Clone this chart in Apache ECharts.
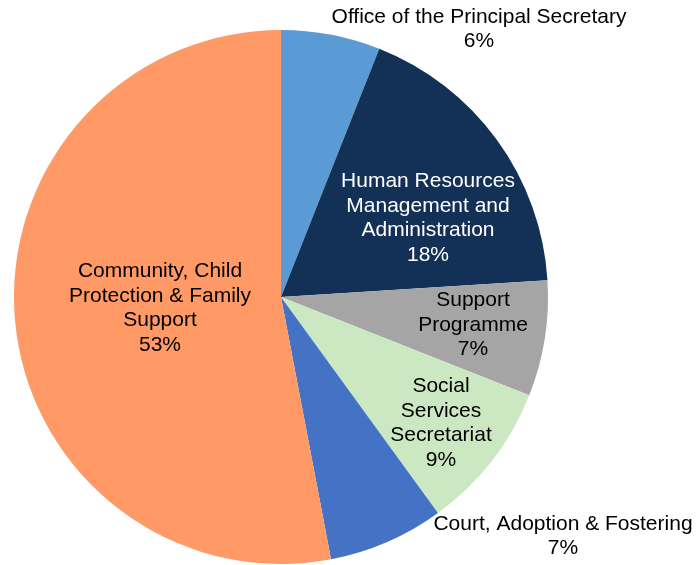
<!DOCTYPE html>
<html>
<head>
<meta charset="utf-8">
<script src="https://cdn.jsdelivr.net/npm/echarts@6/dist/echarts.min.js"></script>
<style>
  html, body { margin: 0; padding: 0; background: #ffffff; }
  #chart { width: 698px; height: 565px; }
</style>
</head>
<body>
<div id="chart"></div>
<script>
// Budget share by programme (percent), clockwise from 12 o'clock
const categories = [
  'Office of the Principal Secretary',
  'Human Resources\nManagement and\nAdministration',
  'Support\nProgramme',
  'Social\nServices\nSecretariat',
  'Court, Adoption & Fostering',
  'Community, Child\nProtection & Family\nSupport'
];
const shares = [6, 18, 7, 9, 7, 53];

const sliceColors = ['#5B9BD5', '#133156', '#A5A5A5', '#CCE8C3', '#4472C4', '#FF9966'];
const labelColors = ['#000', '#fff', '#000', '#000', '#000', '#000'];
// label block centres in pixels
const labelSpots = [[479, 29], [428, 218], [473, 325], [441, 423], [563, 536], [160, 308]];

const chart = echarts.init(document.getElementById('chart'), null, { renderer: 'canvas' });

chart.setOption({
  animation: false,
  series: [{
    type: 'pie',
    center: [281, 297],
    radius: 267,
    startAngle: 90,
    clockwise: true,
    avoidLabelOverlap: false,
    itemStyle: { borderWidth: 0 },
    label: {
      show: true,
      position: 'inside',
      fontFamily: 'Liberation Sans, Arial, sans-serif',
      fontSize: 21,
      lineHeight: 24.5,
      align: 'center',
      formatter: p => p.name + '\n' + p.value + '%'
    },
    labelLine: { show: false },
    labelLayout: p => ({
      x: labelSpots[p.dataIndex][0],
      y: labelSpots[p.dataIndex][1],
      align: 'center',
      verticalAlign: 'middle'
    }),
    emphasis: { disabled: true },
    data: categories.map((name, i) => ({
      name: name,
      value: shares[i],
      itemStyle: { color: sliceColors[i] },
      label: { color: labelColors[i] }
    }))
  }]
});
</script>
</body>
</html>
